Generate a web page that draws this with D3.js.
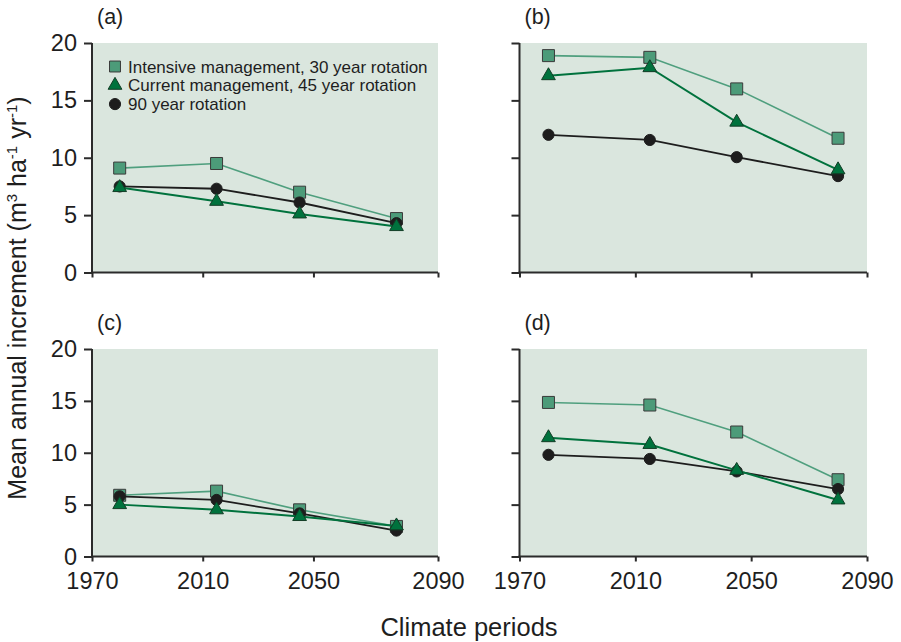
<!DOCTYPE html>
<html>
<head>
<meta charset="utf-8">
<script src="https://cdn.jsdelivr.net/npm/d3@7/dist/d3.min.js"></script>
<style>
  html, body { margin: 0; padding: 0; background: #ffffff; }
  svg { display: block; }
  svg text { font-family: "Liberation Sans", Arial, Helvetica, sans-serif; }
</style>
</head>
<body>
<svg id="chart" width="901" height="642"></svg>
<script>
// Climate periods (period mid-years) shared by all panels
const periods = [1980, 2015, 2045, 2080];

// Tick labels
const xTickLabels = ["1970", "2010", "2050", "2090"];
const yTicks = [0, 5, 10, 15, 20];

// Series names
const seriesNames = [
  "Intensive management, 30 year rotation",
  "Current management, 45 year rotation",
  "90 year rotation"
];

// Mean annual increment per panel (m3 ha-1 yr-1)
const panelA_intensive = [9.1, 9.5, 7.0, 4.7];
const panelA_current   = [7.4, 6.2, 5.1, 4.0];
const panelA_rot90     = [7.5, 7.3, 6.1, 4.3];

const panelB_intensive = [18.9, 18.75, 16.0, 11.7];
const panelB_current   = [17.15, 17.85, 13.1, 8.95];
const panelB_rot90     = [12.0, 11.55, 10.05, 8.4];

const panelC_intensive = [5.9, 6.3, 4.5, 2.9];
const panelC_current   = [5.0, 4.5, 3.85, 2.95];
const panelC_rot90     = [5.8, 5.45, 4.15, 2.5];

const panelD_intensive = [14.85, 14.6, 12.0, 7.4];
const panelD_current   = [11.45, 10.8, 8.3, 5.45];
const panelD_rot90     = [9.8, 9.4, 8.2, 6.5];

const panelLetters = ["(a)", "(b)", "(c)", "(d)"];

// ---- layout -------------------------------------------------------------
const FONT = "'Liberation Sans', Arial, Helvetica, sans-serif";
const svg = d3.select("#chart");
const cols = [
  { x0: 92,    x1: 438, xEnd: 2095 },
  { x0: 519.5, x1: 867, xEnd: 2090 }
];
const rows = [
  { y0: 43,  y1: 272.5 },
  { y0: 349, y1: 556.5 }
];

const panels = [
  { letter: panelLetters[0], col: 0, row: 0, data: [panelA_intensive, panelA_current, panelA_rot90], legend: true },
  { letter: panelLetters[1], col: 1, row: 0, data: [panelB_intensive, panelB_current, panelB_rot90] },
  { letter: panelLetters[2], col: 0, row: 1, data: [panelC_intensive, panelC_current, panelC_rot90] },
  { letter: panelLetters[3], col: 1, row: 1, data: [panelD_intensive, panelD_current, panelD_rot90] }
];

const styles = [
  { symbol: d3.symbolSquare,   size: 144, fill: "#4c9b79", stroke: "#3a3a3a", line: "#4f9f7e", lw: 1.6 },
  { symbol: d3.symbolTriangle, size: 82,  fill: "#00723d", stroke: "#123d26", line: "#00723d", lw: 2.0 },
  { symbol: d3.symbolCircle,   size: 98,  fill: "#1d1d1d", stroke: "#1d1d1d", line: "#1d1d1d", lw: 1.8 }
];
// draw order: squares, circles, triangles on top
const drawOrder = [0, 2, 1];

const axisColor = "#2b2b2b";

panels.forEach(p => {
  const c = cols[p.col], r = rows[p.row];
  const x = d3.scaleLinear().domain([1970, c.xEnd]).range([c.x0, c.x1]);
  const y = d3.scaleLinear().domain([0, 20]).range([r.y1, r.y0]);
  const g = svg.append("g");

  // plot background
  g.append("rect")
    .attr("x", c.x0).attr("y", r.y0)
    .attr("width", c.x1 - c.x0).attr("height", r.y1 - r.y0)
    .attr("fill", "#dae6de");

  // y axis
  const yAxis = d3.axisLeft(y).tickValues(yTicks).tickSize(8).tickPadding(7)
    .tickFormat(p.col === 0 ? d3.format("d") : () => "");
  const ya = g.append("g").attr("transform", `translate(${c.x0},0)`).call(yAxis);

  // x axis: ticks at the axis start, 2010, 2050 and the axis end
  const xTickVals = [1970, 2010, 2050, c.xEnd];
  const xAxis = d3.axisBottom(x).tickValues(xTickVals).tickSize(5).tickPadding(11)
    .tickFormat((d, i) => p.row === 1 ? xTickLabels[i] : "");
  const xa = g.append("g").attr("transform", `translate(0,${r.y1})`).call(xAxis);

  [ya, xa].forEach(a => {
    a.attr("font-family", FONT).attr("font-size", 23.5);
    a.select(".domain").attr("stroke", axisColor).attr("stroke-width", 2);
    a.selectAll(".tick line").attr("stroke", axisColor).attr("stroke-width", 2);
    a.selectAll(".tick text").attr("fill", "#1e1e1e");
  });
  ya.select(".domain").attr("d", `M0,${r.y0}V${r.y1}`);
  xa.select(".domain").attr("d", `M${c.x0 - 1},0H${c.x1}`);

  // series
  drawOrder.forEach(si => {
    const vals = p.data[si];
    const st = styles[si];
    const pts = periods.map((yr, i) => [x(yr), y(vals[i])]);
    g.append("path")
      .attr("d", d3.line()(pts))
      .attr("fill", "none")
      .attr("stroke", st.line)
      .attr("stroke-width", st.lw);
    g.selectAll(null).data(pts).enter().append("path")
      .attr("transform", d => `translate(${d[0]},${d[1]})`)
      .attr("d", d3.symbol().type(st.symbol).size(st.size))
      .attr("fill", st.fill)
      .attr("stroke", st.stroke)
      .attr("stroke-width", 1);
  });

  // panel letter
  g.append("text")
    .attr("x", c.x0 + 5).attr("y", r.y0 - 19)
    .attr("fill", "#1e1e1e")
    .attr("font-size", 21.5)
    .text(p.letter);

  // legend
  if (p.legend) {
    const lg = g.append("g");
    seriesNames.forEach((name, i) => {
      const cy = 66.5 + i * 18.8;
      const st = styles[i];
      lg.append("path")
        .attr("transform", `translate(${c.x0 + 23},${cy})`)
        .attr("d", d3.symbol().type(st.symbol).size(i === 0 ? 120 : st.size))
        .attr("fill", st.fill)
        .attr("stroke", st.stroke)
        .attr("stroke-width", 1);
      lg.append("text")
        .attr("x", c.x0 + 36).attr("y", cy + 6)
        .attr("fill", "#1e1e1e")
        .attr("font-size", 17)
        .text(name);
    });
  }
});

// y axis title with superscripts
const yTitle = svg.append("text")
  .attr("transform", "translate(26,298) rotate(-90)")
  .attr("text-anchor", "middle")
  .attr("fill", "#1e1e1e")
  .attr("font-size", 25);
yTitle.append("tspan").text("Mean annual increment (m");
yTitle.append("tspan").attr("dy", -9).attr("font-size", 15).text("3");
yTitle.append("tspan").attr("dy", 9).text(" ha");
yTitle.append("tspan").attr("dy", -9).attr("font-size", 15).text("-1");
yTitle.append("tspan").attr("dy", 9).text(" yr");
yTitle.append("tspan").attr("dy", -9).attr("font-size", 15).text("-1");
yTitle.append("tspan").attr("dy", 9).text(")");

// x axis title
svg.append("text")
  .attr("x", 469).attr("y", 636)
  .attr("text-anchor", "middle")
  .attr("fill", "#1e1e1e")
  .attr("font-size", 25.5)
  .text("Climate periods");
</script>
</body>
</html>
